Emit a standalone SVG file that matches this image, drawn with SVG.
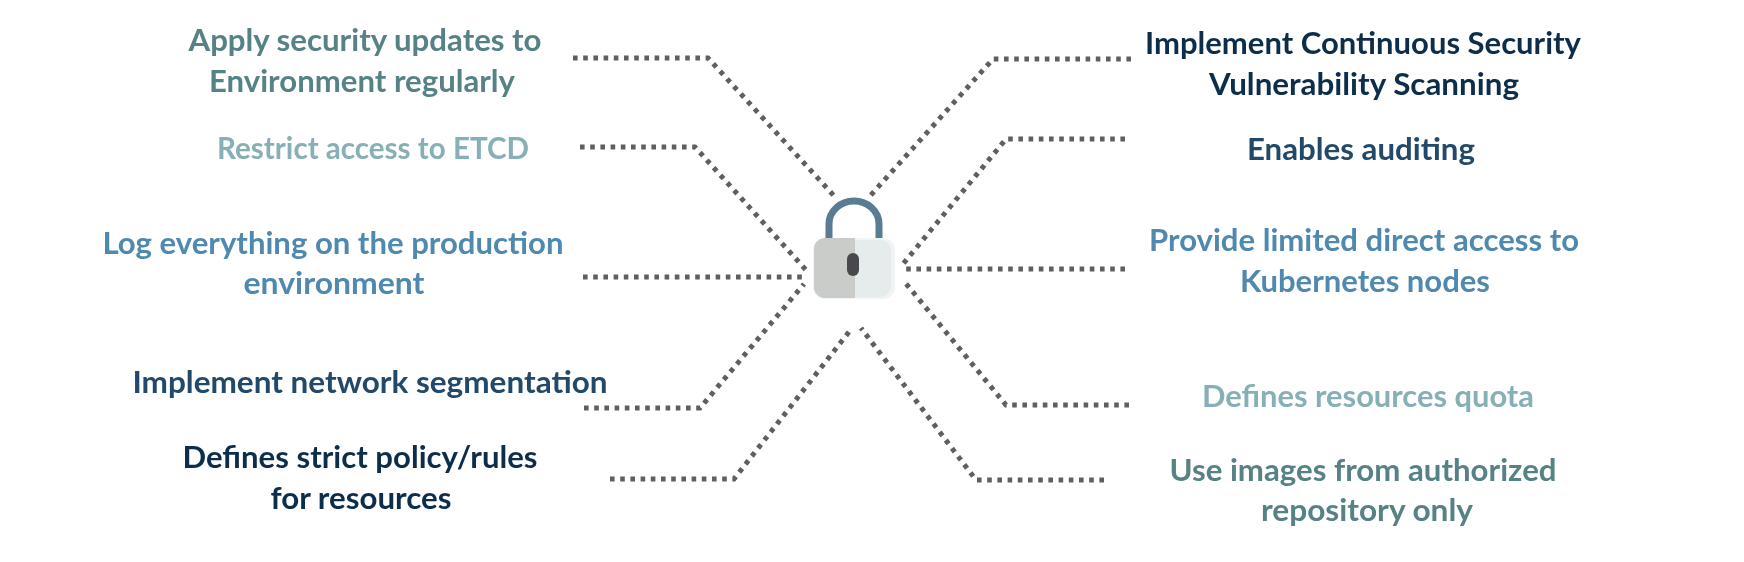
<svg xmlns="http://www.w3.org/2000/svg" width="1744" height="562" viewBox="0 0 1744 562">
<style>
text{font-family:"Lato","Liberation Sans",sans-serif;font-weight:700;font-size:31px;text-anchor:middle}
.c1{fill:#578285}.c2{fill:#86afb6}.c3{fill:#5089b0}.c4{fill:#234a69}.c5{fill:#112f4b}
.dot{fill:none;stroke:#5f5f5f;stroke-width:5;stroke-dasharray:4.6 5.6}
</style>
<defs><filter id="soft" x="-5%" y="-5%" width="110%" height="110%"><feGaussianBlur stdDeviation="0.7"/></filter></defs>
<rect width="1744" height="562" fill="#fff"/>
<g id="connectors" filter="url(#soft)">
<polyline class="dot" points="573,58 708,58 836,198"/>
<polyline class="dot" points="580,147 695,147 806,270"/>
<polyline class="dot" points="583,277 803,277"/>
<polyline class="dot" points="584,408 700,408 804,284"/>
<polyline class="dot" points="610,479 734,479 852,328"/>
<polyline class="dot" points="1131,59 993,59 870,196"/>
<polyline class="dot" points="1125,139 1006,139 903,264"/>
<polyline class="dot" points="1125,269 903,269"/>
<polyline class="dot" points="1129,405 1006,405 903,280"/>
<polyline class="dot" points="1104,480 976,480 861,328"/>
</g>
<g id="lock" filter="url(#soft)">
<path d="M829,238V224a25,23 0 0 1 50,0V238" fill="none" stroke="#5a7b93" stroke-width="7"/>
<rect x="813" y="238" width="82" height="61" rx="12" fill="#f1f4f4"/>
<path d="M855,238H825a11,11 0 0 0 -11,11V287a11,11 0 0 0 11,11H855Z" fill="#c9ccc8"/>
<path d="M855,240H880a11,11 0 0 1 11,11V286a11,11 0 0 1 -11,11H855Z" fill="#e6ebeb"/>
<rect x="847" y="253" width="12" height="23" rx="6" fill="#474a4d"/>
</g>
<g filter="url(#soft)">
<g id="n-apply" class="c1"><text x="365" y="51" textLength="353" lengthAdjust="spacingAndGlyphs">Apply security updates to</text><text x="362" y="92" textLength="306" lengthAdjust="spacingAndGlyphs">Environment regularly</text></g>
<g id="n-etcd" class="c2"><text x="373" y="159" textLength="312" lengthAdjust="spacingAndGlyphs">Restrict access to ETCD</text></g>
<g id="n-log" class="c3"><text x="333" y="254" textLength="461" lengthAdjust="spacingAndGlyphs">Log everything on the production</text><text x="334" y="294" textLength="181" lengthAdjust="spacingAndGlyphs">environment</text></g>
<g id="n-network" class="c4"><text x="370" y="393" textLength="475" lengthAdjust="spacingAndGlyphs">Implement network segmentation</text></g>
<g id="n-policy" class="c5"><text x="360" y="468" textLength="355" lengthAdjust="spacingAndGlyphs">Defines strict policy/rules</text><text x="361" y="509" textLength="181" lengthAdjust="spacingAndGlyphs">for resources</text></g>
<g id="n-scan" class="c5"><text x="1363" y="54" textLength="436" lengthAdjust="spacingAndGlyphs">Implement Continuous Security</text><text x="1364" y="95" textLength="310" lengthAdjust="spacingAndGlyphs">Vulnerability  Scanning</text></g>
<g id="n-audit" class="c4"><text x="1361" y="160" textLength="228" lengthAdjust="spacingAndGlyphs">Enables auditing</text></g>
<g id="n-access" class="c3"><text x="1364" y="251" textLength="430" lengthAdjust="spacingAndGlyphs">Provide limited direct access to</text><text x="1365" y="292" textLength="250" lengthAdjust="spacingAndGlyphs">Kubernetes nodes</text></g>
<g id="n-quota" class="c2"><text x="1368" y="407" textLength="332" lengthAdjust="spacingAndGlyphs">Defines resources quota</text></g>
<g id="n-images" class="c1"><text x="1363" y="481" textLength="387" lengthAdjust="spacingAndGlyphs">Use images from authorized</text><text x="1367" y="521" textLength="212" lengthAdjust="spacingAndGlyphs">repository only</text></g>
</g>
</svg>
